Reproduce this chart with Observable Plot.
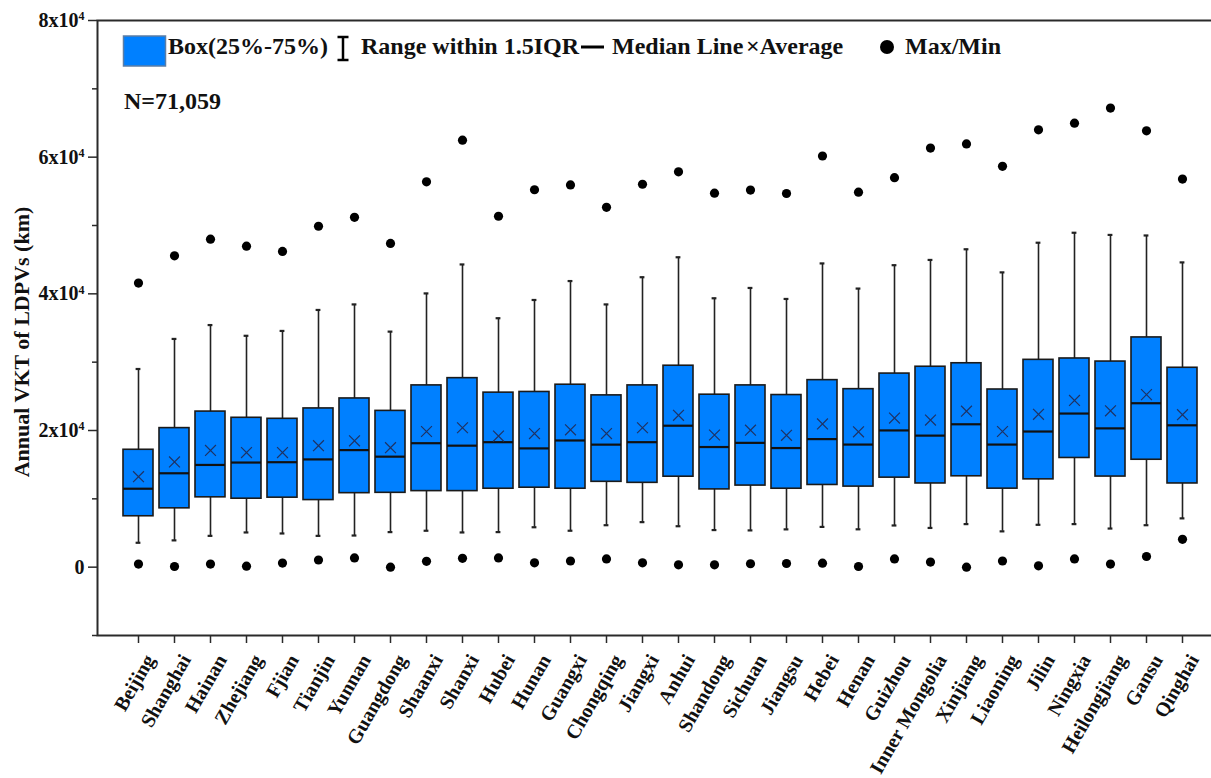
<!DOCTYPE html>
<html><head><meta charset="utf-8">
<script src="https://cdn.jsdelivr.net/npm/d3@7"></script>
<script src="https://cdn.jsdelivr.net/npm/@observablehq/plot@0.6"></script>
<style>
html,body{margin:0;padding:0;overflow:hidden;background:#fff;}
#chart{width:1211px;height:778px;overflow:hidden;position:relative;}
#chart svg{display:block;max-width:none !important;width:1224px !important;height:778px !important;}
</style></head><body><div id="chart"></div>
<script>
const provinces = ["Beijing","Shanghai","Hainan","Zhejiang","Fjian","Tianjin","Yunnan","Guangdong","Shaanxi","Shanxi","Hubei","Hunan","Guangxi","Chongqing","Jiangxi","Anhui","Shandong","Sichuan","Jiangsu","Hebei","Henan","Guizhou","Inner Mongolia","Xinjiang","Liaoning","Jilin","Ningxia","Heilongjiang","Gansu","Qinghai"];
const maxVals     = [41570,45560,48000,46970,46210,49890,51200,47370,56390,62490,51350,55230,55940,52660,56040,57850,54730,55180,54680,60170,54880,57000,61330,61940,58660,64000,64970,67180,63860,56800];
const whiskerHigh = [29000,33400,35430,33860,34570,37640,38450,34470,40060,44300,36430,39100,41870,38450,42430,45350,39350,40860,39250,44450,40770,44190,44960,46520,43140,47480,48940,48620,48540,44600];
const q3Vals      = [17180,20350,22770,21860,21710,23230,24690,22870,26600,27660,25540,25640,26700,25140,26600,29480,25240,26600,25190,27370,26050,28330,29330,29840,26000,30340,30540,30090,33620,29180];
const meanVals    = [13240,15400,17080,16770,16770,17780,18490,17480,19850,20400,19190,19550,20100,19550,20400,22220,19340,20050,19300,20960,19800,21820,21520,22830,19850,22370,24400,22880,25250,22320];
const medianVals  = [11480,13740,14960,15310,15360,15770,17130,16170,18140,17780,18290,17380,18540,17930,18290,20700,17580,18190,17430,18740,17940,20010,19250,20910,17940,19850,22480,20310,23990,20760];
const q1Vals      = [7450,8610,10220,10020,10170,9820,10830,10880,11130,11130,11480,11630,11480,12490,12340,13240,11380,11940,11480,12030,11790,13100,12250,13300,11490,12850,15980,13260,15720,12250];
const whiskerLow  = [3570,3920,4580,5080,4930,4580,4630,5130,5330,5080,5130,5840,5330,6140,6590,5990,5430,5380,5530,5890,5540,6100,5740,6300,5240,6200,6300,5650,6140,7140];
const minVals     = [450,100,450,140,600,1050,1350,0,850,1300,1350,640,900,1200,640,340,340,500,540,590,100,1200,750,0,900,200,1200,450,1560,4080];
const yMajorTicks = [0,20000,40000,60000,80000];
const yMinorTicks = [-10000,10000,30000,50000,70000];

const rows = provinces.map((p,i)=>({p, max:maxVals[i], top:whiskerHigh[i], q3:q3Vals[i], mean:meanVals[i], median:medianVals[i], q1:q1Vals[i], low:whiskerLow[i], min:minVals[i]}));
const FONT = '"Liberation Serif","Times New Roman",Times,serif';
const AX = "#2a2a2a";

const svg = Plot.plot({
  width:1224, height:778, marginLeft:97, marginRight:0, marginTop:20, marginBottom:143,
  style:{fontFamily:FONT, background:"white", color:"#111", maxWidth:"none"},
  x:{type:"band", domain:provinces, paddingInner:0.166, paddingOuter:0.583, axis:null, label:null},
  y:{domain:[-10000,80000], axis:null, label:null},
  marks:[
    Plot.axisY({ticks:yMinorTicks, tickSize:5, tickFormat:()=>"", label:null, stroke:AX, strokeWidth:1.5}),
    Plot.axisY({ticks:yMajorTicks, tickSize:9, tickPadding:4, label:null, tickFormat:d=> d===0 ? "0" : `${d/10000}x10^4`, fontSize:20, fontWeight:"bold", stroke:AX, strokeWidth:1.5, fill:"#111"}),
    Plot.axisX({tickSize:8, tickFormat:()=>"", label:null, stroke:AX, strokeWidth:1.5}),
    Plot.text(provinces, {x:d=>d, frameAnchor:"bottom", rotate:-60, textAnchor:"end", dx:17, dy:24, fontSize:20, fontWeight:"bold", fill:"#111"}),
    Plot.text(["Annual VKT of LDPVs (km)"], {frameAnchor:"left", dx:-76, dy:14, rotate:-90, textAnchor:"middle", fontSize:22, fontWeight:"bold", fill:"#111"}),
    Plot.ruleX(rows, {x:"p", y1:"low", y2:"top", stroke:"#222", strokeWidth:1.6}),
    Plot.tickY(rows, {x:"p", y:"top", insetLeft:12.6, insetRight:12.6, stroke:"#222", strokeWidth:2.2}),
    Plot.tickY(rows, {x:"p", y:"low", insetLeft:12.6, insetRight:12.6, stroke:"#222", strokeWidth:2.2}),
    Plot.barY(rows, {x:"p", y1:"q1", y2:"q3", fill:"#0080ff", stroke:"#1a1a1a", strokeWidth:1.6}),
    Plot.tickY(rows, {x:"p", y:"median", stroke:"#111", strokeWidth:2.2}),
    Plot.dot(rows, {x:"p", y:"mean", symbol:"times", r:5, stroke:"#1e3264", strokeWidth:1.2}),
    Plot.dot(rows, {x:"p", y:"max", r:4.6, fill:"#000", stroke:"none"}),
    Plot.dot(rows, {x:"p", y:"min", r:4.6, fill:"#000", stroke:"none"}),
    Plot.frame({stroke:AX, strokeWidth:2})
  ]
});
document.getElementById("chart").appendChild(svg);

// superscript exponents on y tick labels
d3.select(svg).selectAll("text").each(function(){
  const t = this.textContent;
  const m = /^(\d+)x10\^(\d+)$/.exec(t);
  if (m) {
    const el = d3.select(this);
    el.text(null);
    el.append("tspan").text(`${m[1]}x10`);
    el.append("tspan").attr("dy","-0.55em").attr("font-size","12px").text(m[2]);
  }
});

// legend + N annotation
const s = d3.select(svg);
const lg = s.append("g").attr("font-family", FONT).attr("font-weight","bold").attr("fill","#111").attr("text-anchor","start");
lg.append("rect").attr("x",123.5).attr("y",36).attr("width",42).attr("height",30).attr("fill","#0080ff").attr("stroke","#5b7ea6").attr("stroke-width",1.5);
lg.append("text").attr("x",168).attr("y",54).attr("font-size",24).text("Box(25%-75%)");
lg.append("line").attr("x1",343).attr("x2",343).attr("y1",37).attr("y2",60).attr("stroke","#000").attr("stroke-width",2.5);
lg.append("line").attr("x1",337.5).attr("x2",348.5).attr("y1",37).attr("y2",37).attr("stroke","#000").attr("stroke-width",2.5);
lg.append("line").attr("x1",337.5).attr("x2",348.5).attr("y1",60).attr("y2",60).attr("stroke","#000").attr("stroke-width",2.5);
lg.append("text").attr("x",361).attr("y",54).attr("font-size",24).text("Range within 1.5IQR");
lg.append("line").attr("x1",581).attr("x2",604).attr("y1",47).attr("y2",47).attr("stroke","#000").attr("stroke-width",3);
lg.append("text").attr("x",612).attr("y",54).attr("font-size",24).text("Median Line");
lg.append("text").attr("x",746).attr("y",54).attr("font-size",24).text("×Average");
lg.append("circle").attr("cx",887).attr("cy",47).attr("r",7).attr("fill","#000");
lg.append("text").attr("x",905).attr("y",54).attr("font-size",24).text("Max/Min");
lg.append("text").attr("x",124).attr("y",109).attr("font-size",24).text("N=71,059");
</script></body></html>
